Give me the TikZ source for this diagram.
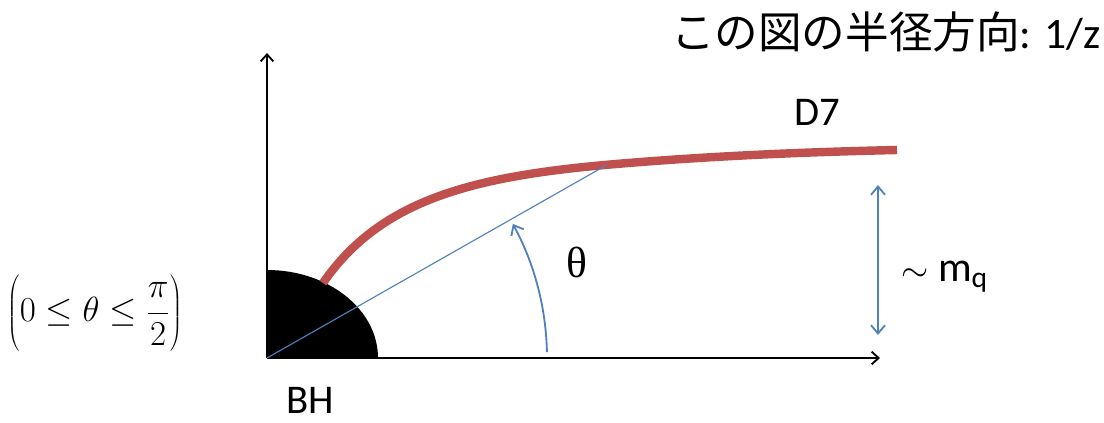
\documentclass[tikz,border=0pt]{standalone}
\usepackage{fontspec}
\setmainfont{Carlito}
\newfontfamily\cjk{Noto Sans CJK JP}
\newfontfamily\grk{Liberation Serif}
\usepackage{xcolor}
\usetikzlibrary{arrows.meta, positioning, calc}
\definecolor{clrBrane}{HTML}{C0504D}
\definecolor{clrAngle}{HTML}{4F81BD}

\begin{document}
\begin{tikzpicture}[
    axis/.style={-{Straight Barb[length=5pt, width=9pt]}, line width=1.3pt, black},
    ray/.style={line width=0.8pt, clrAngle},
    anglearrow/.style={-{Straight Barb[length=6pt, width=10pt]}, line width=1.3pt, clrAngle},
    gaparrow/.style={{Straight Barb[length=6pt, width=10pt]}-{Straight Barb[length=6pt, width=10pt]}, line width=1.3pt, clrAngle},
    brane/.style={line width=6pt, clrBrane},
    lbl/.style={font=\fontsize{29}{34}\selectfont, inner sep=0pt},
]
\useasboundingbox (-6.675,-1.625) rectangle (20.925,8.95);

% === Axes ===
\coordinate (o) at (0,0);
\coordinate (ytip) at (0,7.625);
\coordinate (xtip) at (15.325,0);
\draw[axis] (o) -- (ytip);
\draw[axis] (o) -- (xtip);

% === Black hole ===
\fill[black] (o) -- (2.775,0) arc[start angle=0, end angle=90, x radius=2.775, y radius=2.2] -- cycle;
\node[lbl] (bh) at (1.075,-1.05) {BH};

% === D7 brane ===
\coordinate (hit) at (8.5,4.83);
\coordinate (braneend) at (15.75,5.2);
\draw[brane] (1.4,1.875) .. controls (2.8,3.9) and (5.0,4.52) .. (hit)
    .. controls (11,5.05) and (13.5,5.15) .. (braneend);
\node[lbl] (d7) at (13.75,6.15) {D7};

% === Angle ===
\draw[ray] (o) -- (hit);
\draw[anglearrow] (1.2:7) arc[start angle=1.2, end angle=28.6, radius=7];
\node[lbl, font=\fontsize{31}{36}\selectfont\grk] (theta) at (7.75,2.4) {θ};

% === Quark mass gap ===
\coordinate (gaptop) at (15.275,4.325);
\coordinate (gapbot) at (15.275,0.575);
\draw[gaparrow] (gaptop) -- (gapbot);
\node[lbl, font=\fontsize{30}{35}\selectfont, anchor=base west] (mq) at (15.85,1.9) {$\sim$ m$_\mathrm{q}$};

% === Range and title ===
\node[inner sep=0pt, font=\fontsize{25}{30}\selectfont] (range) at (-4.3,1.14)
    {$\displaystyle \left(\vrule height 1.24cm depth 0.78cm width 0pt 0 \le \theta \le \frac{\pi}{2}\right)$};
\node[inner sep=0pt, anchor=east, font=\fontsize{31}{36}\selectfont] (title) at (20.85,8.15)
    {{\cjk この図の半径方向}: 1/z};

\end{tikzpicture}
\end{document}
